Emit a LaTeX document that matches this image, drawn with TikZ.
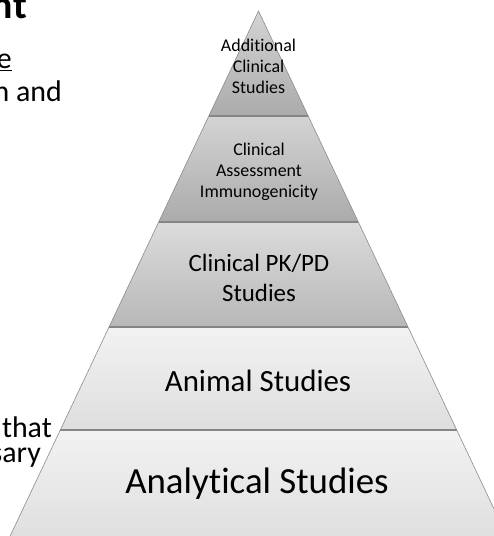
\documentclass[tikz,border=0pt]{standalone}
\usepackage{fontspec}
\setmainfont{Carlito}[RawFeature={-liga;-clig;-dlig}]
\begin{document}
\begin{tikzpicture}[x=1bp,y=-1bp,
  layerdark/.style={top color=black!17, bottom color=black!33},
  layerlight/.style={top color=black!5, bottom color=black!13},
  rim/.style={draw=black!45, line width=0.6bp},
  seam/.style={draw=black!48, line width=1.4bp},
  lbl/.style={align=center, inner sep=0pt, text=black},
  side/.style={inner sep=0pt, text=black, font=\fontsize{30}{25}\selectfont}]
\useasboundingbox (0,0) rectangle (494,536);
\clip (0,0) rectangle (494,536);
% corner points of the pyramid tiers (apex, then left/right at each seam)
\coordinate (apex) at (258.5,11);
\coordinate (l1) at (208.8,116); \coordinate (r1) at (308.2,116);
\coordinate (l2) at (158.7,222); \coordinate (r2) at (358.3,222);
\coordinate (l3) at (109.0,327); \coordinate (r3) at (408.0,327);
\coordinate (l4) at (60.3,430);  \coordinate (r4) at (456.7,430);
\coordinate (l5) at (5.9,545);   \coordinate (r5) at (511.1,545);
% tiers
\path[layerdark]  (apex) -- (r1) -- (l1) -- cycle;
\path[layerdark]  (l1) -- (r1) -- (r2) -- (l2) -- cycle;
\path[layerdark, top color=black!14, bottom color=black!28] (l2) -- (r2) -- (r3) -- (l3) -- cycle;
\path[layerlight] (l3) -- (r3) -- (r4) -- (l4) -- cycle;
\path[layerlight] (l4) -- (r4) -- (r5) -- (l5) -- cycle;
% outline and seams
\draw[rim] (l5) -- (apex) -- (r5);
\draw[seam] (l1) -- (r1);
\draw[seam] (l2) -- (r2);
\draw[seam] (l3) -- (r3);
\draw[seam] (l4) -- (r4);
% tier labels
\node[lbl, font=\fontsize{18}{21}\selectfont] (t1) at (258.5,66) {Additional\\Clinical\\Studies};
\node[lbl, font=\fontsize{18}{21}\selectfont] (t2) at (259,172) {Clinical\\Assessment\\Immunogenicity};
\node[lbl, font=\fontsize{25}{30}\selectfont] (t3) at (259,278) {Clinical PK/PD\\Studies};
\node[lbl, font=\fontsize{31}{36}\selectfont] (t4) at (258,381) {Animal Studies};
\node[lbl, font=\fontsize{37}{44}\selectfont] (t5) at (257,484) {Analytical Studies};
% slide text beside the pyramid
\node[inner sep=0pt, anchor=base east, font=\fontsize{40}{44}\selectfont\bfseries] (s1) at (27,19) {nt};
\node[side, anchor=base east] (s2) at (12,69) {\underline{e}};
\node[side, anchor=base east] (s3) at (62,102) {n and};
\node[side, anchor=north east, align=right] (s4) at (52,417) {that\\sary\hspace*{11bp}};
\end{tikzpicture}
\end{document}
